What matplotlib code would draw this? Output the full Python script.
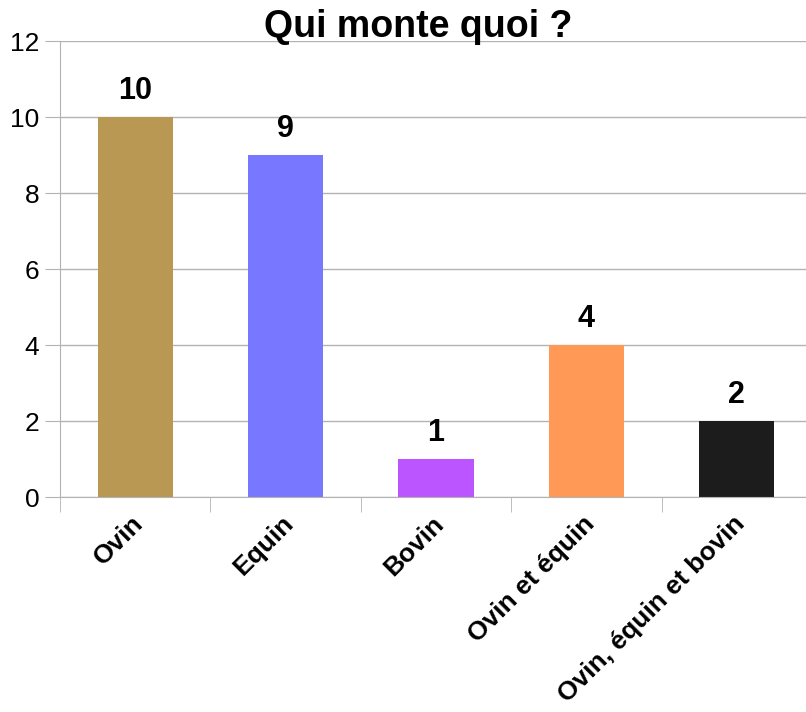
import numpy as np
import matplotlib.pyplot as plt
import matplotlib.transforms as mtrans
from matplotlib.ticker import FixedLocator

plt.rcParams['font.family'] = ['Liberation Sans', 'DejaVu Sans']

categories = ['Ovin', 'Equin', 'Bovin', 'Ovin et équin', 'Ovin, équin et bovin']
values = [10, 9, 1, 4, 2]
colors = ['#b89852', '#7777ff', '#bb55ff', '#ff9955', '#1c1c1c']
yticks = [0, 2, 4, 6, 8, 10, 12]

fig = plt.figure(figsize=(8.06, 7.12), dpi=100)
ax = fig.add_axes([0.0744, 0.3013, 0.9256, 0.6411])

x = np.arange(len(categories))
ax.set_axisbelow(True)
ax.yaxis.grid(True, color='#b3b3b3', lw=1)
ax.bar(x, values, width=0.5, color=colors, zorder=2)
for xi, v in zip(x, values):
    ax.text(xi, v + 0.3, str(v), ha='center', va='bottom',
            fontsize=22, fontweight='bold')

ax.set_xlim(-0.5, 4.46)
ax.set_ylim(0, 12)
ax.set_yticks(yticks)
ax.set_yticklabels([str(t) for t in yticks], fontsize=19)
ax.tick_params(axis='y', length=11, color='#b3b3b3', pad=4)

ax.set_xticks(x)
ax.set_xticklabels(categories, rotation=45, ha='right', va='top',
                   rotation_mode='anchor', fontsize=19, fontweight='bold')
ax.tick_params(axis='x', which='major', length=0, pad=10)
shift = mtrans.ScaledTranslation(-4 / 100, 0, fig.dpi_scale_trans)
for lbl in ax.get_xticklabels():
    lbl.set_transform(lbl.get_transform() + shift)
ax.xaxis.set_minor_locator(FixedLocator(np.arange(-0.5, 4.5, 1)))
ax.tick_params(axis='x', which='minor', length=11, color='#b3b3b3')

for s in ['top', 'right']:
    ax.spines[s].set_visible(False)
ax.spines['left'].set_color('#b3b3b3')
ax.spines['bottom'].set_color('#b3b3b3')

fig.text(0.519, 0.962, 'Qui monte quoi ?', ha='center', va='center',
         fontsize=27, fontweight='bold')

fig.savefig('out.png', dpi=100)
